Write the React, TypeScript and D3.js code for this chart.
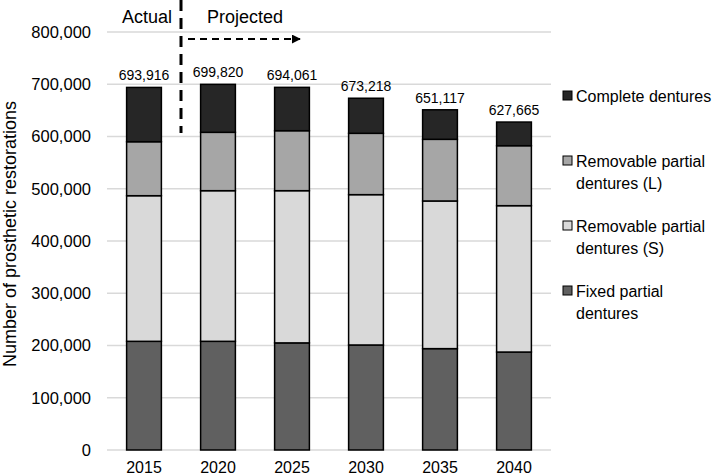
import React from "react";
import * as d3 from "d3";

const years = ["2015", "2020", "2025", "2030", "2035", "2040"];
const fixedPartial = [208000, 208000, 205000, 201000, 194000, 187500];
const removableS = [278700, 288300, 291300, 287700, 282600, 280100];
const removableL = [103300, 111700, 114800, 117400, 118000, 114800];
const complete = [103916, 91820, 82961, 67118, 56517, 45265];
const totalLabels = ["693,916", "699,820", "694,061", "673,218", "651,117", "627,665"];
const totals = [693916, 699820, 694061, 673218, 651117, 627665];
const yTicks = [0, 100000, 200000, 300000, 400000, 500000, 600000, 700000, 800000];

const seriesKeys = ["fixed", "S", "L", "complete"];
const seriesColors: Record<string, string> = {
  fixed: "#606060",
  S: "#d9d9d9",
  L: "#a6a6a6",
  complete: "#262626",
};
const legendItems = [
  { key: "complete", lines: ["Complete dentures"] },
  { key: "L", lines: ["Removable partial", "dentures (L)"] },
  { key: "S", lines: ["Removable partial", "dentures (S)"] },
  { key: "fixed", lines: ["Fixed partial", "dentures"] },
];

const W = 716;
const H = 476;
const plot = { left: 107, right: 551, top: 32, bottom: 450 };
const font = "Arial, 'Liberation Sans', sans-serif";

export default function App() {
  const x = d3.scaleBand<string>().domain(years).range([plot.left, plot.right]).paddingInner(0.53).paddingOuter(0.265);
  const y = d3.scaleLinear().domain([0, 800000]).range([plot.bottom, plot.top]);

  const rows = years.map((yr, i) => ({
    year: yr,
    fixed: fixedPartial[i],
    S: removableS[i],
    L: removableL[i],
    complete: complete[i],
  }));
  const stacked = d3.stack<any>().keys(seriesKeys)(rows);
  const fmt = d3.format(",");

  const legendY = [96, 161, 226, 291];

  return (
    <svg width={W} height={H} style={{ position: "absolute", left: 0, top: 0, background: "#fff" }} fontFamily={font}>
      <defs>
        <marker id="arrow" viewBox="0 0 10 10" refX="9" refY="5" markerWidth="4.5" markerHeight="4.5" orient="auto" markerUnits="strokeWidth">
          <path d="M0,0 L10,5 L0,10 z" fill="#000" />
        </marker>
      </defs>
      <rect width={W} height={H} fill="#fff" />
      {yTicks.map((t) => (
        <g key={t}>
          <line x1={plot.left} x2={plot.right} y1={y(t)} y2={y(t)} stroke="#d9d9d9" strokeWidth={1.5} />
          <text x={91} y={y(t)} dy="0.35em" textAnchor="end" fontSize={16.5} fill="#000">
            {fmt(t)}
          </text>
        </g>
      ))}
      <text
        transform={`translate(16,234) rotate(-90)`}
        textAnchor="middle"
        fontSize={18}
        fill="#000"
      >
        Number of prosthetic restorations
      </text>
      {stacked.map((s) => (
        <g key={s.key}>
          {s.map((d: any, i: number) => (
            <rect
              key={i}
              x={x(years[i])}
              y={y(d[1])}
              width={x.bandwidth()}
              height={y(d[0]) - y(d[1])}
              fill={seriesColors[s.key]}
              stroke="#000"
              strokeWidth={1.5}
            />
          ))}
        </g>
      ))}
      {years.map((yr, i) => (
        <g key={yr}>
          <text x={x(yr)! + x.bandwidth() / 2} y={y(totals[i]) - 7} textAnchor="middle" fontSize={14} fill="#000">
            {totalLabels[i]}
          </text>
          <text x={x(yr)! + x.bandwidth() / 2} y={467} dy="0.35em" textAnchor="middle" fontSize={16} fill="#000">
            {yr}
          </text>
        </g>
      ))}
      {legendItems.map((item, i) => (
        <g key={item.key}>
          <rect x={563} y={legendY[i] - 5} width={9} height={9} fill={seriesColors[item.key]} stroke="#000" strokeWidth={1} />
          {item.lines.map((ln, j) => (
            <text key={j} x={576} y={legendY[i] + j * 22} dy="0.35em" fontSize={16} fill="#000">
              {ln}
            </text>
          ))}
        </g>
      ))}
      <text x={147} y={17} dy="0.35em" textAnchor="middle" fontSize={18} fill="#000">
        Actual
      </text>
      <text x={245} y={17} dy="0.35em" textAnchor="middle" fontSize={18} fill="#000">
        Projected
      </text>
      <line x1={181} x2={181} y1={0} y2={133} stroke="#000" strokeWidth={3} strokeDasharray="11,7" />
      <line x1={188} x2={300} y1={39} y2={39} stroke="#000" strokeWidth={2} strokeDasharray="7,5" markerEnd="url(#arrow)" />
    </svg>
  );
}
